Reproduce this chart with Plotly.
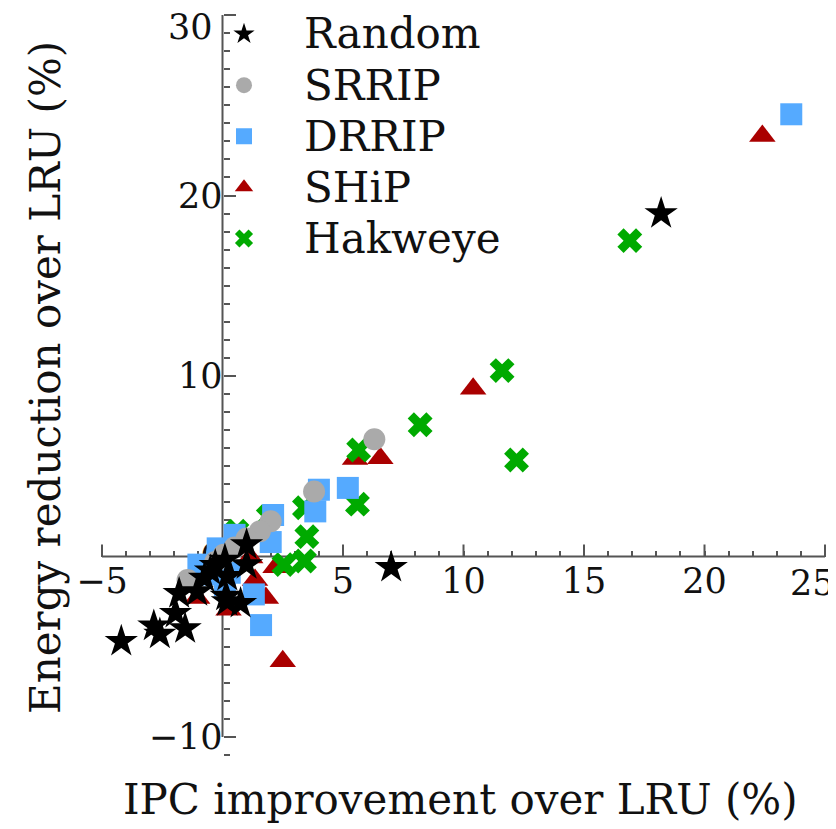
import plotly.graph_objects as go

# ---- data ----
random_x = [18.2, 7.0, 1.0, 1.0, 0.1, -0.5, -0.75, 0.2, 0.15, 0.75, 0.2, -1.05, -1.8, -1.95, -1.55, -2.6, -2.85, -4.2, -0.3]
random_y = [19.0, -0.6, 0.65, -0.45, -0.2, -0.8, -1.2, -1.1, -2.2, -2.6, -2.5, -1.95, -2.05, -3.15, -4.0, -4.3, -3.85, -4.7, -0.5]

srrip_x = [6.3, 3.8, 2.0, 1.55, 1.0, 0.5, 0.05, -1.45, -0.3]
srrip_y = [6.5, 3.6, 1.95, 1.4, 1.0, 0.5, 0.1, -1.3, -0.3]

drrip_x = [23.6, 5.2, 4.0, 3.85, 2.0, 2.1, 0.5, -0.2, -1.0, 0.1, 1.3, 1.6, -0.7, 0.3]
drrip_y = [24.5, 3.8, 3.7, 2.5, 0.8, 2.3, 1.2, 0.45, -0.45, -1.6, -2.1, -3.8, -1.0, -0.9]

ship_x = [22.4, 10.4, 5.5, 6.55, 2.2, 1.35, 1.8, -1.05, 0.25, 2.5, 1.15]
ship_y = [23.3, 9.3, 5.4, 5.45, -0.6, -1.3, -2.3, -2.3, -2.95, -5.8, -0.05]

hawk_x = [16.9, 11.6, 12.2, 8.2, 5.6, 5.65, 3.5, 3.4, 2.55, 1.9, 3.4, 0.6]
hawk_y = [17.5, 10.3, 5.35, 7.3, 2.9, 5.9, 1.1, -0.25, -0.45, 2.2, 2.7, 1.4]

x_ticks = [-5, 0, 5, 10, 15, 20, 25]
y_ticks = [-10, 0, 10, 20, 30]
x_minor = list(range(-5, 26))

FONT = "DejaVu Serif"
AX = "#555555"
TXT = "#111111"

W, H = 828, 821
L, R, T, B = 82, 0, 0, 69
PW, PH = W - L - R, H - T - B

xr = [-5.498, 25.456]
yr = [-11.274, 30.388]
xpos0 = (0 - yr[0]) / (yr[1] - yr[0])   # paper y of x-axis (y=0)
ypos0 = (0 - xr[0]) / (xr[1] - xr[0])   # paper x of y-axis (x=0)


def lbl(v):
    return ("\u2212" + str(-v)) if v < 0 else str(v)


def leg(name):
    return '<span style="font-size:42px">' + name + "</span>"


fig = go.Figure()

# drawing order (bottom -> top): SHiP, Hakweye, DRRIP, SRRIP, Random
fig.add_trace(go.Scatter(x=ship_x, y=ship_y, mode="markers", name=leg("SHiP"), legendrank=4,
                         legendgroup="d", cliponaxis=False,
                         marker=dict(symbol="triangle-up", size=23, color="#aa0000")))
fig.add_trace(go.Scatter(x=hawk_x, y=hawk_y, mode="markers", name=leg("Hakweye"), legendrank=5,
                         legendgroup="e", cliponaxis=False,
                         marker=dict(symbol="x", size=22, color="#00aa00")))
fig.add_trace(go.Scatter(x=drrip_x, y=drrip_y, mode="markers", name=leg("DRRIP"), legendrank=3,
                         legendgroup="c", cliponaxis=False,
                         marker=dict(symbol="square", size=22, color="#55aaff")))
fig.add_trace(go.Scatter(x=srrip_x, y=srrip_y, mode="markers", name=leg("SRRIP"), legendrank=2,
                         legendgroup="b", cliponaxis=False,
                         marker=dict(symbol="circle", size=22, color="#aaaaaa")))
fig.add_trace(go.Scatter(x=random_x, y=random_y, mode="markers", name=leg("Random"), legendrank=1,
                         legendgroup="a", cliponaxis=False,
                         marker=dict(symbol="star", size=25, color="#000000")))

# axis spines through the origin
fig.add_shape(type="line", xref="x", yref="y", x0=x_ticks[0], x1=x_ticks[-1], y0=0, y1=0,
              line=dict(color=AX, width=2), layer="below")
fig.add_shape(type="line", xref="x", yref="y", x0=0, x1=0, y0=y_ticks[0], y1=y_ticks[-1],
              line=dict(color=AX, width=2), layer="below")
# longer major ticks on the x spine (pointing up)
for v in x_ticks:
    fig.add_shape(type="line", xref="x", yref="y", x0=v, x1=v, ysizemode="pixel", yanchor=0,
                  y0=0, y1=12, line=dict(color=AX, width=2), layer="below")

fig.update_layout(
    width=W, height=H,
    margin=dict(l=L, r=R, t=T, b=B, autoexpand=False),
    paper_bgcolor="white", plot_bgcolor="white",
    font=dict(family=FONT, color=TXT),
    showlegend=True,
    legend=dict(x=(176 - L) / PW, y=1.006, xanchor="left", yanchor="top",
                bgcolor="rgba(0,0,0,0)", font=dict(family=FONT, size=37, color=TXT),
                tracegroupgap=0, itemwidth=110),
    xaxis=dict(range=xr, anchor="free", position=xpos0, automargin=False,
               showgrid=False, zeroline=False, showline=False,
               tickmode="array", tickvals=x_minor,
               ticktext=[lbl(v) if (v in x_ticks and v not in (0, x_ticks[-1])) else "" for v in x_minor],
               ticks="inside", ticklen=6, tickwidth=1.5, tickcolor=AX,
               tickfont=dict(family=FONT, size=35, color=TXT), layer="below traces"),
    yaxis=dict(range=yr, anchor="free", position=ypos0, automargin=False,
               showgrid=False, zeroline=False, showline=False,
               tickmode="array", tickvals=y_ticks,
               ticktext=[lbl(v) if v != y_ticks[-1] else "" for v in y_ticks],
               ticks="inside", ticklen=12, tickwidth=2, tickcolor=AX,
               minor=dict(ticks="inside", ticklen=6, tickwidth=1.5, tickcolor=AX, dtick=1, tick0=0),
               tickfont=dict(family=FONT, size=35, color=TXT), layer="below traces"),
)

# edge tick labels nudged inward so they stay fully visible (as in the reference)
fig.add_annotation(text=lbl(x_ticks[-1]), xref="x", yref="paper", x=x_ticks[-1], xshift=-13,
                   y=xpos0, yshift=-26, showarrow=False, xanchor="center", yanchor="middle",
                   font=dict(family=FONT, size=35, color=TXT))
fig.add_annotation(text=lbl(y_ticks[-1]), xref="paper", yref="y", x=ypos0, xshift=-8,
                   y=y_ticks[-1], yshift=-12, showarrow=False, xanchor="right", yanchor="middle",
                   font=dict(family=FONT, size=35, color=TXT))

fig.add_annotation(text="IPC improvement over LRU (%)", xref="paper", yref="paper",
                   x=(452 - L) / PW, y=-(792 - (T + PH)) / PH, showarrow=False,
                   xanchor="center", yanchor="middle",
                   font=dict(family=FONT, size=42, color=TXT))
fig.add_annotation(text="Energy reduction over LRU (%)", xref="paper", yref="paper",
                   x=(37 - L) / PW, y=1 - (370 - T) / PH, showarrow=False, textangle=-90,
                   xanchor="center", yanchor="middle",
                   font=dict(family=FONT, size=42, color=TXT))

fig.write_html("out.html")
